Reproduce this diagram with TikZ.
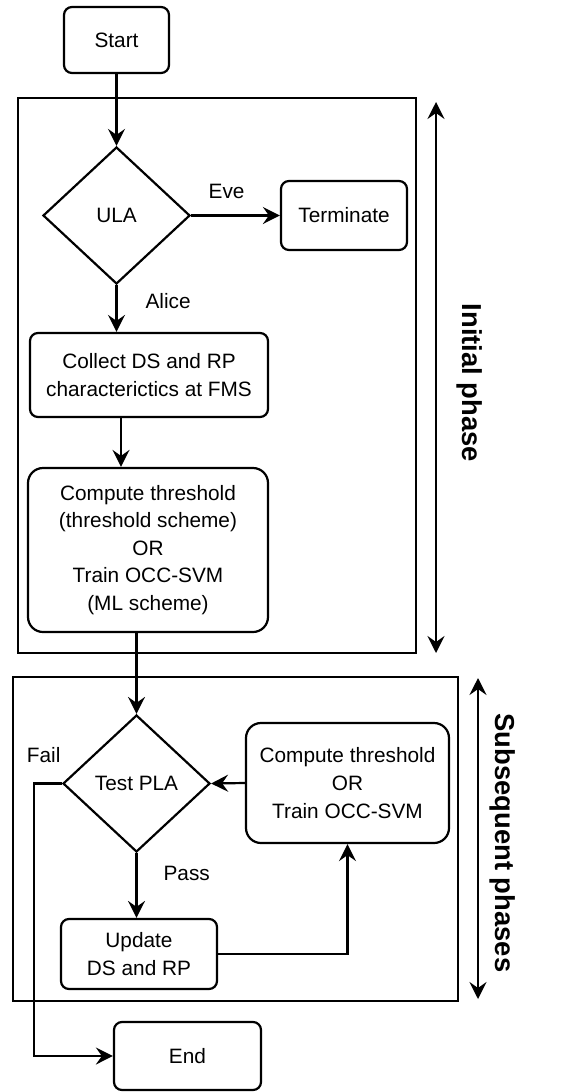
\documentclass[tikz,border=0pt]{standalone}
\usepackage{fontspec}
\setmainfont{Liberation Sans}
\usetikzlibrary{shapes.geometric,arrows.meta}

\begin{document}
\begin{tikzpicture}[x=0.5pt,y=-0.5pt,line width=1.1pt,
    every node/.style={font=\fontsize{10.4}{13.8}\selectfont,inner sep=0pt},
    box/.style={draw,rectangle,rounded corners=4pt,align=center},
    bigbox/.style={box,rounded corners=7.5pt},
    decision/.style={draw,diamond,minimum width=73.5pt,minimum height=68.5pt},
    flow/.style={-{Stealth[length=8.5pt,width=8.5pt,inset=3pt]}},
    phase/.style={{Stealth[length=8.5pt,width=8.5pt,inset=3pt]}-{Stealth[length=8.5pt,width=8.5pt,inset=3pt]}},
    phaselabel/.style={rotate=-90,font=\fontsize{13.7}{16}\selectfont\bfseries}]
  \useasboundingbox (0,0) rectangle (572,1092);
  \draw (18,98) rectangle (416,653);
  \draw (13,677) rectangle (458,1001);

  \path (116.5,40) node[box,minimum width=52.5pt,minimum height=33pt] (start) {Start};
  \path (116.5,215.5) node[decision] (ula) {ULA};
  \path (344,215.5) node[box,minimum width=63pt,minimum height=34.5pt] (term) {Terminate};
  \path (149,375) node[box,minimum width=119pt,minimum height=42pt] (collect) {Collect DS and RP\\characterictics at FMS};
  \path (148,550) node[bigbox,minimum width=120pt,minimum height=82pt] (comp) {Compute threshold\\(threshold scheme)\\OR\\Train OCC-SVM\\(ML scheme)};
  \path (136.5,783.5) node[decision] (pla) {Test PLA};
  \path (347.5,783) node[bigbox,minimum width=101.5pt,minimum height=60pt] (recomp) {Compute threshold\\OR\\Train OCC-SVM};
  \path (139,954) node[box,minimum width=78pt,minimum height=35pt] (upd) {Update\\DS and RP};
  \path (187.5,1056) node[box,minimum width=73.5pt,minimum height=34pt] (end) {End};

  \draw[flow] (start) -- (ula);
  \draw[flow] (ula.east) -- node[above=8pt,pos=0.4] (eve) {Eve} (term.west);
  \draw[flow] (ula.south) -- node[right=14pt,pos=0.35] (alice) {Alice} (ula.south |- collect.north);
  \draw[flow] ([xshift=-14pt]collect.south) -- ([xshift=-14pt]collect.south |- comp.north);
  \draw[flow] (pla.north |- comp.south) -- (pla.north);
  \draw[flow] (pla.south) -- node[right=13pt,pos=0.32] (pass) {Pass} (pla.south |- upd.north);
  \draw[flow] (upd.east) -| (recomp.south);
  \draw[flow] (recomp.west) -- (pla.east);
  \draw[flow] (pla.west) -- node[above=10pt,pos=0.65] (fail) {Fail} ++(-28,0) |- (end.west);

  \draw[phase] (436,102) -- (436,653);
  \path (470,383) node[phaselabel] (initlabel) {Initial phase};
  \draw[phase] (478,678) -- (478,999);
  \path (503,843) node[phaselabel] (sublabel) {Subsequent phases};
\end{tikzpicture}
\end{document}
